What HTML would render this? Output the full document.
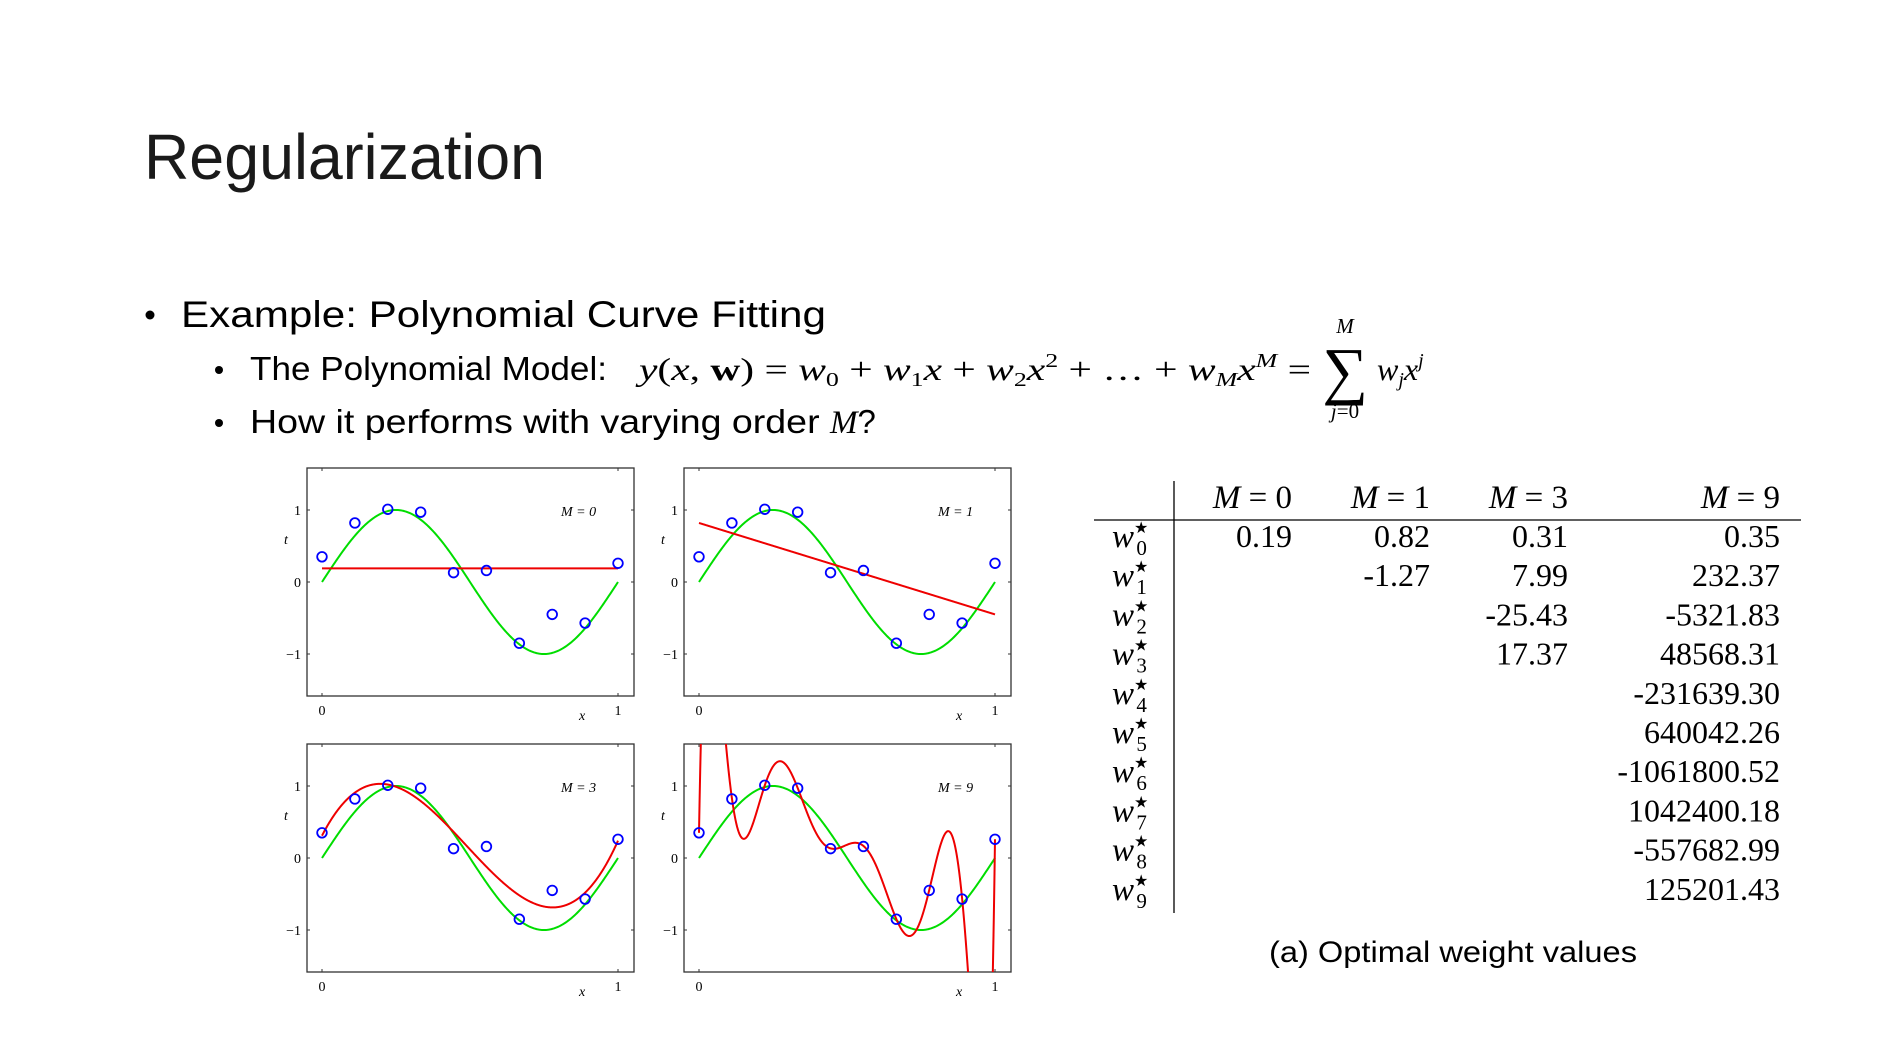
<!DOCTYPE html>
<html><head><meta charset="utf-8"><style>
html,body{margin:0;padding:0;background:#fff;width:1882px;height:1058px;overflow:hidden;}
svg{display:block;}
.sans{font-family:"Liberation Sans",sans-serif;}
.serif{font-family:"Liberation Serif",serif;}
</style></head><body>
<svg id="slide" width="1882" height="1058" viewBox="0 0 1882 1058" xmlns="http://www.w3.org/2000/svg">
<rect width="1882" height="1058" fill="#fff"/>
<text class="sans" x="144" y="179" font-size="64" fill="#1a1a1a" textLength="401" lengthAdjust="spacingAndGlyphs">Regularization</text>
<circle cx="150" cy="315" r="4.5" fill="#000"/>
<text class="sans" x="181" y="327" font-size="37" fill="#000" textLength="645" lengthAdjust="spacingAndGlyphs">Example: Polynomial Curve Fitting</text>
<circle cx="219" cy="370" r="4" fill="#000"/>
<text class="sans" x="250" y="380" font-size="33" fill="#000" textLength="357" lengthAdjust="spacingAndGlyphs">The Polynomial Model:</text>
<g class="serif">
<text x="639" y="380" font-size="32" fill="#000" textLength="672" lengthAdjust="spacingAndGlyphs"><tspan font-style="italic">y</tspan>(<tspan font-style="italic">x</tspan>, <tspan font-weight="bold">w</tspan>) = <tspan font-style="italic">w</tspan><tspan font-size="20" dy="6">0</tspan><tspan dy="-6"> + </tspan><tspan font-style="italic">w</tspan><tspan font-size="20" dy="6">1</tspan><tspan dy="-6" font-style="italic">x</tspan> + <tspan font-style="italic">w</tspan><tspan font-size="20" dy="6">2</tspan><tspan dy="-6" font-style="italic">x</tspan><tspan font-size="20" dy="-13">2</tspan><tspan dy="13"> + … + </tspan><tspan font-style="italic">w</tspan><tspan font-size="20" dy="6" font-style="italic">M</tspan><tspan dy="-6" font-style="italic">x</tspan><tspan font-size="20" dy="-13" font-style="italic">M</tspan><tspan dy="13"> =</tspan></text>
<text x="1345" y="333" font-size="21" font-style="italic" text-anchor="middle">M</text>
<text x="1345" y="392" font-size="64" text-anchor="middle">∑</text>
<text x="1345" y="418" font-size="21" text-anchor="middle"><tspan font-style="italic">j</tspan>=0</text>
<text x="1377" y="380" font-size="32"><tspan font-style="italic">w</tspan><tspan font-size="20" dy="6" font-style="italic">j</tspan><tspan dy="-6" font-style="italic">x</tspan><tspan font-size="20" dy="-13" font-style="italic">j</tspan></text>
</g>
<circle cx="219" cy="423" r="4" fill="#000"/>
<text class="sans" x="250" y="433" font-size="33" fill="#000"><tspan textLength="580" lengthAdjust="spacingAndGlyphs">How it performs with varying order </tspan><tspan class="serif" font-style="italic">M</tspan>?</text>

<g id="plots"></g>

<g id="table" class="serif">
<line x1="1174" y1="481" x2="1174" y2="913" stroke="#000" stroke-width="1.3"/>
<line x1="1094" y1="520" x2="1801" y2="520" stroke="#000" stroke-width="1.3"/>
</g>
<text class="sans" x="1453" y="962" font-size="30" text-anchor="middle" fill="#000" textLength="368" lengthAdjust="spacingAndGlyphs">(a) Optimal weight values</text>
</svg>
<script>
const NS = "http://www.w3.org/2000/svg";
// data
const xData = [0, 1/9, 2/9, 3/9, 4/9, 5/9, 6/9, 7/9, 8/9, 1];
const tData = [0.35, 0.82, 1.01, 0.97, 0.13, 0.16, -0.85, -0.45, -0.57, 0.26];
const orders = [0, 1, 3, 9];
const wM0 = [0.19];
const wM1 = [0.82, -1.27];
const wM3 = [0.31, 7.99, -25.43, 17.37];
const wM9 = [0.35, 232.37, -5321.83, 48568.31, -231639.30, 640042.26, -1061800.52, 1042400.18, -557682.99, 125201.43];
const yTicks = [-1, 0, 1];
const yTickLabels = ["\u22121", "0", "1"];
const xTicks = [0, 1];
const xTickLabels = ["0", "1"];
const colHeaders = ["M = 0", "M = 1", "M = 3", "M = 9"];
const weightCols = [
  ["0.19"],
  ["0.82", "-1.27"],
  ["0.31", "7.99", "-25.43", "17.37"],
  ["0.35", "232.37", "-5321.83", "48568.31", "-231639.30", "640042.26", "-1061800.52", "1042400.18", "-557682.99", "125201.43"]
];
const weightSets = [wM0, wM1, wM3, wM9];

function mk(tag, attrs, parent) {
  const e = document.createElementNS(NS, tag);
  for (const k in attrs) e.setAttribute(k, attrs[k]);
  parent.appendChild(e);
  return e;
}
function poly(w, x) { let s = 0; for (let i = w.length - 1; i >= 0; i--) s = s * x + w[i]; return s; }

const plots = document.getElementById('plots');
const panels = [[307, 468], [684, 468], [307, 744], [684, 744]];
const FW = 327, FH = 228, PXU = 72;
panels.forEach((p, i) => {
  const [fx, fy] = p;
  const g = mk('g', {}, plots);
  
  
  const X = x => fx + 15 + x * 296;
  const Y = y => fy + 114 - y * PXU;
  const cid = 'clip' + i;
  const cp = mk('clipPath', {id: cid}, g);
  mk('rect', {x: fx, y: fy, width: FW, height: FH}, cp);
  const frame = mk('rect', {x: fx, y: fy, width: FW, height: FH, fill: 'none', stroke: '#333', 'stroke-width': 1.3}, g);
  
  
  yTicks.forEach((v, k) => {
    mk('line', {x1: fx, x2: fx + 3, y1: Y(v), y2: Y(v), stroke: '#333'}, g);
    mk('line', {x1: fx + FW - 3, x2: fx + FW, y1: Y(v), y2: Y(v), stroke: '#333'}, g);
    const t = mk('text', {x: fx - 6, y: Y(v) + 5, 'font-size': 14, 'text-anchor': 'end', 'font-family': 'Liberation Serif, serif'}, g);
    t.textContent = yTickLabels[k];
    
    
  });
  xTicks.forEach((v, k) => {
    mk('line', {x1: X(v), x2: X(v), y1: fy, y2: fy + 3, stroke: '#333'}, g);
    mk('line', {x1: X(v), x2: X(v), y1: fy + FH - 3, y2: fy + FH, stroke: '#333'}, g);
    const t = mk('text', {x: X(v), y: fy + FH + 19, 'font-size': 14, 'text-anchor': 'middle', 'font-family': 'Liberation Serif, serif'}, g);
    t.textContent = xTickLabels[k];
    
    
  });
  const xl = mk('text', {x: fx + 272, y: fy + FH + 24, 'font-size': 14, 'font-style': 'italic', 'font-family': 'Liberation Serif, serif'}, g);
  xl.textContent = 'x';
  
  
  const tl = mk('text', {x: fx - 23, y: fy + 76, 'font-size': 14, 'font-style': 'italic', 'font-family': 'Liberation Serif, serif'}, g);
  tl.textContent = 't';
  
  
  const ml = mk('text', {x: fx + 254, y: fy + 48, 'font-size': 14, 'font-style': 'italic', 'font-family': 'Liberation Serif, serif'}, g);
  ml.textContent = 'M = ' + orders[i];
  
  
  let d = '';
  for (let s = 0; s <= 300; s++) { const x = s / 300; d += (s ? 'L' : 'M') + X(x).toFixed(2) + ',' + Y(Math.sin(2 * Math.PI * x)).toFixed(2); }
  const gl = mk('path', {d: d, fill: 'none', stroke: '#00dd00', 'stroke-width': 2}, g);
  
  
  const w = weightSets[i];
  let d2 = '';
  for (let s = 0; s <= 1000; s++) {
    const x = s / 1000; let y = poly(w, x);
    y = Math.max(-4, Math.min(4, y));
    d2 += (s ? 'L' : 'M') + X(x).toFixed(2) + ',' + Y(y).toFixed(2);
  }
  const rl = mk('path', {d: d2, fill: 'none', stroke: '#ee0000', 'stroke-width': 2, 'clip-path': 'url(#' + cid + ')'}, g);
  
  
  xData.forEach((x, k) => {
    const c = mk('circle', {cx: X(x), cy: Y(tData[k]), r: 4.8, fill: 'none', stroke: '#0000ff', 'stroke-width': 1.8}, g);
    
    
  });
});

const table = document.getElementById('table');
const colRight = [1292, 1430, 1568, 1780];
const rowBase = 547, rowPitch = 39.2;
colHeaders.forEach((h, c) => {
  const t = mk('text', {x: colRight[c], y: 508, 'font-size': 33, 'text-anchor': 'end'}, table);
  t.innerHTML = '<tspan font-style="italic">M</tspan> = ' + h.split(' = ')[1];
  
  
});
for (let r = 0; r < 10; r++) {
  const t = mk('text', {x: 1112, y: rowBase + r * rowPitch, 'font-size': 33}, table);
  t.innerHTML = '<tspan font-style="italic">w</tspan><tspan font-size="16" dy="-14">★</tspan><tspan font-size="21" dx="-12" dy="22">' + r + '</tspan>';
  
  
}
weightCols.forEach((col, c) => {
  col.forEach((v, r) => {
    const t = mk('text', {x: colRight[c], y: rowBase + r * rowPitch, 'font-size': 32, 'text-anchor': 'end'}, table);
    t.textContent = v;
    
    
  });
});
</script>
</body></html>
